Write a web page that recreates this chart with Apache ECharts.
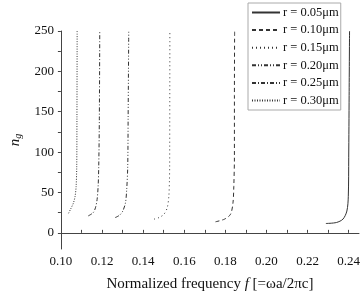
<!DOCTYPE html>
<html><head><meta charset="utf-8">
<script src="https://cdn.jsdelivr.net/npm/echarts@6/dist/echarts.min.js"></script>
<style>html,body{margin:0;padding:0;background:#fff}#c{width:363px;height:297px}</style>
</head><body><div id="c"></div>
<script>
var seriesNames = ['r = 0.05\u03bcm','r = 0.10\u03bcm','r = 0.15\u03bcm','r = 0.20\u03bcm','r = 0.25\u03bcm','r = 0.30\u03bcm'];
var f05 = [0.2289,0.2340,0.2372,0.2391,0.2398,0.2400,0.2402,0.2404];
var ng05 = [11.6,12.8,17.0,27.0,45.2,93.7,170,250];
var f10 = [0.1752,0.1796,0.1825,0.1837,0.1841,0.1844,0.1844,0.1845];
var ng10 = [13.7,17.0,23.0,37.1,57.3,93.7,170,250];
var f15 = [0.1453,0.1477,0.1501,0.1517,0.1525,0.1528,0.1529,0.1530];
var ng15 = [17.0,18.9,23.0,31.0,45.2,65.4,81.6,250];
var f20 = [0.1264,0.1285,0.1301,0.1314,0.1320,0.1325,0.1327,0.1330];
var ng20 = [18.9,21.8,27.0,37.1,53.3,81.6,142,250];
var f25 = [0.1133,0.1157,0.1168,0.1176,0.1181,0.1184,0.1187,0.1189];
var ng25 = [21.0,25.0,31.0,41.2,57.3,81.6,142,250];
var f30 = [0.1037,0.1048,0.1061,0.1069,0.1074,0.1077,0.1078,0.1079];
var ng30 = [24.2,29.8,37.1,45.2,57.3,81.6,142,250];
var xTickValues = [0.10,0.11,0.12,0.13,0.14,0.15,0.16,0.17,0.18,0.19,0.20,0.21,0.22,0.23,0.24];
var xLabelValues = [0.10,0.12,0.14,0.16,0.18,0.20,0.22,0.24];
var yTickValues = [0,25,50,75,100,125,150,175,200,225,250];
var yLabelValues = [0,50,100,150,200,250];

var fs = [f05,f10,f15,f20,f25,f30];
var ngs = [ng05,ng10,ng15,ng20,ng25,ng30];
var dashes = ['solid',[4,3],[1,3],[4,2,1,2,1,2],[4,2,1,2],[1,1.5]];
var FONT = '"Liberation Serif","DejaVu Serif",serif';
var series = seriesNames.map(function(n,i){
  return {
    name: n, type: 'line', symbol: 'none', showSymbol: false, smooth: 0.3, animation: false,
    data: fs[i].map(function(v,k){ return [v, ngs[i][k]]; }),
    itemStyle: {color: '#333', opacity: 0},
    lineStyle: {color: '#333', width: 1, type: dashes[i]}
  };
});
var chart = echarts.init(document.getElementById('c'));
chart.setOption({
  backgroundColor: '#fff',
  animation: false,
  grid: {left: 57, right: 4, top: 31, bottom: 43},
  legend: {
    orient: 'vertical', left: 248, top: 3,
    padding: [3,2,3,3], itemWidth: 28, itemHeight: 10, itemGap: 4.6,
    borderColor: '#aaa', borderWidth: 1, backgroundColor: '#fff',
    itemStyle: {opacity: 0},
    textStyle: {fontFamily: FONT, fontSize: 12.5, color: '#111', padding: [0,0,0,-2]},
    data: seriesNames
  },
  xAxis: {
    type: 'value', min: 0.10, max: 0.245,
    name: '{a|Normalized frequency }{i|f}{a| [=\u03c9a/2\u03c0c]}',
    nameLocation: 'middle', nameGap: 28,
    nameTextStyle: {rich: {
      a: {fontFamily: FONT, fontSize: 15, color: '#111'},
      i: {fontFamily: FONT, fontSize: 15, fontStyle: 'italic', color: '#111'}
    }},
    splitLine: {show: false},
    axisLine: {lineStyle: {color: '#444', width: 1}},
    axisTick: {inside: true, length: 3, customValues: xTickValues, lineStyle: {color: '#444'}},
    axisLabel: {customValues: xLabelValues, margin: 6, fontFamily: FONT, fontSize: 13, color: '#111',
      formatter: function(v){ return v.toFixed(2); }}
  },
  yAxis: {
    type: 'value', min: -20, max: 250,
    name: '{i|n}{s|g}',
    nameLocation: 'middle', nameGap: 36, nameRotate: 90,
    nameTextStyle: {rich: {
      i: {fontFamily: FONT, fontSize: 15, fontStyle: 'italic', color: '#111'},
      s: {fontFamily: FONT, fontSize: 10, fontStyle: 'italic', color: '#111', verticalAlign: 'bottom', padding: [6,0,0,0]}
    }},
    splitLine: {show: false},
    axisLine: {show: true, lineStyle: {color: '#444', width: 1}},
    axisTick: {show: true, length: 3, customValues: yTickValues, lineStyle: {color: '#444'}},
    axisLabel: {customValues: yLabelValues, margin: 7, fontFamily: FONT, fontSize: 13, color: '#111'}
  },
  series: series
});
</script></body></html>
